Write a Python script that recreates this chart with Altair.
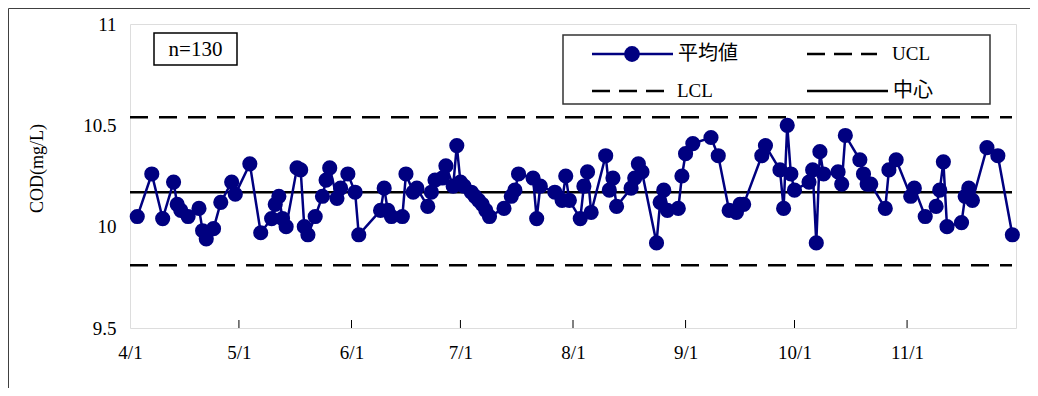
import altair as alt
import pandas as pd

# ---- data ----
dates = [
    "2023-04-03", "2023-04-07", "2023-04-10", "2023-04-13", "2023-04-14", "2023-04-15", "2023-04-17",
    "2023-04-20", "2023-04-21", "2023-04-22", "2023-04-24", "2023-04-26", "2023-04-29", "2023-04-30",
    "2023-05-04", "2023-05-07", "2023-05-10", "2023-05-11", "2023-05-12", "2023-05-13", "2023-05-14",
    "2023-05-17", "2023-05-18", "2023-05-19", "2023-05-20", "2023-05-22", "2023-05-24", "2023-05-25",
    "2023-05-26", "2023-05-28", "2023-05-29", "2023-05-31", "2023-06-02", "2023-06-03", "2023-06-09",
    "2023-06-10", "2023-06-11", "2023-06-12", "2023-06-15", "2023-06-16", "2023-06-18", "2023-06-19",
    "2023-06-22", "2023-06-23", "2023-06-24", "2023-06-26", "2023-06-27", "2023-06-29", "2023-06-30",
    "2023-07-01", "2023-07-02", "2023-07-04", "2023-07-05", "2023-07-06", "2023-07-07", "2023-07-08",
    "2023-07-09", "2023-07-13", "2023-07-15", "2023-07-16", "2023-07-17", "2023-07-21", "2023-07-22",
    "2023-07-23", "2023-07-27", "2023-07-29", "2023-07-30", "2023-07-31", "2023-08-03", "2023-08-04",
    "2023-08-05", "2023-08-06", "2023-08-10", "2023-08-11", "2023-08-12", "2023-08-13", "2023-08-17",
    "2023-08-18", "2023-08-19", "2023-08-20", "2023-08-24", "2023-08-25", "2023-08-26", "2023-08-27",
    "2023-08-30", "2023-08-31", "2023-09-01", "2023-09-03", "2023-09-08", "2023-09-10", "2023-09-13",
    "2023-09-15", "2023-09-16", "2023-09-17", "2023-09-22", "2023-09-23", "2023-09-27", "2023-09-28",
    "2023-09-29", "2023-09-30", "2023-10-01", "2023-10-05", "2023-10-06", "2023-10-07", "2023-10-08",
    "2023-10-09", "2023-10-13", "2023-10-14", "2023-10-15", "2023-10-19", "2023-10-20", "2023-10-21",
    "2023-10-22", "2023-10-26", "2023-10-27", "2023-10-29", "2023-11-02", "2023-11-03", "2023-11-06",
    "2023-11-09", "2023-11-10", "2023-11-11", "2023-11-12", "2023-11-16", "2023-11-17", "2023-11-18",
    "2023-11-19", "2023-11-23", "2023-11-26", "2023-11-30",
]
values = [
    10.05, 10.26, 10.04, 10.22, 10.11, 10.08, 10.05,
    10.09, 9.98, 9.94, 9.99, 10.12, 10.22, 10.16,
    10.31, 9.97, 10.04, 10.11, 10.15, 10.04, 10.00,
    10.29, 10.28, 10.00, 9.96, 10.05, 10.15, 10.23,
    10.29, 10.14, 10.19, 10.26, 10.17, 9.96, 10.08,
    10.19, 10.08, 10.05, 10.05, 10.26, 10.17, 10.19,
    10.10, 10.17, 10.23, 10.24, 10.30, 10.20, 10.40,
    10.22, 10.20, 10.17, 10.15, 10.13, 10.11, 10.08,
    10.05, 10.09, 10.15, 10.18, 10.26, 10.24, 10.04,
    10.20, 10.17, 10.13, 10.25, 10.13, 10.04, 10.20,
    10.27, 10.07, 10.35, 10.18, 10.24, 10.10, 10.19,
    10.24, 10.31, 10.27, 9.92, 10.12, 10.18, 10.08,
    10.09, 10.25, 10.36, 10.41, 10.44, 10.35, 10.08,
    10.07, 10.11, 10.11, 10.35, 10.40, 10.28, 10.09,
    10.50, 10.26, 10.18, 10.22, 10.28, 9.92, 10.37,
    10.26, 10.27, 10.21, 10.45, 10.33, 10.26, 10.21,
    10.21, 10.09, 10.28, 10.33, 10.15, 10.19, 10.05,
    10.10, 10.18, 10.32, 10.00, 10.02, 10.15, 10.19,
    10.13, 10.39, 10.35, 9.96,
]
UCL = 10.54
CL = 10.17
LCL = 9.81
month_ticks = ["2023-05-01", "2023-06-01", "2023-07-01",
               "2023-08-01", "2023-09-01", "2023-10-01", "2023-11-01"]
y_ticks = [9.5, 10, 10.5, 11]
y_title = "COD(mg/L)"
n_label = "n=130"
legend_labels = ["平均値", "UCL", "LCL", "中心"]

# ---- styling ----
W, H = 886, 304
NAVY = "#000080"
SERIF = "Liberation Serif"
CJK = "Noto Sans CJK JP"

df = pd.DataFrame({"date": dates, "value": values})
ticks_df = pd.DataFrame({"date": month_ticks})
limits_df = pd.DataFrame({"y": [UCL, LCL]})
cl_df = pd.DataFrame({"y": [CL]})
one = alt.Data(values=[{}])

x_scale = alt.Scale(
    type="utc",
    domain=[alt.DateTime(year=2023, month=4, date=1, utc=True),
            alt.DateTime(year=2023, month=12, date=1, utc=True)],
)
y_scale = alt.Scale(domain=[9.5, 11], nice=False, zero=False)

x_axis = alt.Axis(
    values=[alt.DateTime(year=2023, month=m, date=1, utc=True) for m in range(4, 12)],
    labelExpr="(utcmonth(datum.value) + 1) + '/' + utcdate(datum.value)",
    labelFont=SERIF, labelFontSize=19, labelColor="black",
    ticks=False, domain=False, grid=False, labelPadding=15,
    labelFlush=False, labelOverlap=False, title=None,
)
y_axis = alt.Axis(
    values=y_ticks, format="~g",
    labelFont=SERIF, labelFontSize=19, labelColor="black",
    ticks=False, domain=False, grid=False, labelPadding=14,
    title=y_title, titleFont=SERIF, titleFontSize=18, titleFontWeight="normal",
    titleColor="black", titleAngle=270, titleX=-93, titleY=H / 2 - 8,
    titleAlign="center", titleBaseline="middle",
)


def X(field):
    return alt.X(field, type="temporal", scale=x_scale, axis=x_axis)


def Y(field):
    return alt.Y(field, type="quantitative", scale=y_scale, axis=y_axis)


# outer frame (top and left edges)
frame_top = alt.Chart(one).mark_rule(color="#404040", strokeWidth=1).encode(
    x=alt.value(-121.5), x2=alt.value(W + 40), y=alt.value(-15.5)
)
frame_left = alt.Chart(one).mark_rule(color="#404040", strokeWidth=1).encode(
    x=alt.value(-121.5), y=alt.value(-15.5), y2=alt.value(H + 120)
)

limits = alt.Chart(limits_df).mark_rule(color="black", strokeWidth=2.5, strokeDash=[18, 11]).encode(
    y=Y("y"), x=alt.value(0), x2=alt.value(W - 4)
)
center = alt.Chart(cl_df).mark_rule(color="black", strokeWidth=2.5).encode(
    y=Y("y"), x=alt.value(0), x2=alt.value(W - 4)
)
xticks = alt.Chart(ticks_df).mark_rule(color="black", strokeWidth=1).encode(
    x=X("date"), y=alt.value(H - 8), y2=alt.value(H)
)
line = alt.Chart(df).mark_line(color=NAVY, strokeWidth=2.5).encode(x=X("date"), y=Y("value"))
points = alt.Chart(df).mark_point(filled=True, shape="circle", size=230, color=NAVY, opacity=1).encode(
    x=X("date"), y=Y("value")
)

# n box
nbox = alt.Chart(one).mark_rect(fill="white", stroke="black", strokeWidth=1.5).encode(
    x=alt.value(24), x2=alt.value(107), y=alt.value(9), y2=alt.value(41)
)
ntext = alt.Chart(one).mark_text(text=n_label, font=SERIF, fontSize=21, align="center",
                                 baseline="middle", color="black").encode(
    x=alt.value(65.5), y=alt.value(26)
)

# legend
lbox = alt.Chart(one).mark_rect(fill="white", stroke="#333333", strokeWidth=1.5).encode(
    x=alt.value(433), x2=alt.value(860), y=alt.value(11), y2=alt.value(80)
)


def lg_rule(x1, x2, y, color="black", dash=None):
    kw = dict(color=color, strokeWidth=2.5)
    if dash:
        kw["strokeDash"] = dash
    return alt.Chart(one).mark_rule(**kw).encode(x=alt.value(x1), x2=alt.value(x2), y=alt.value(y))


def lg_text(label, x, y, font, size):
    return alt.Chart(one).mark_text(text=label, font=font, fontSize=size, align="left",
                                    baseline="middle", color="black").encode(
        x=alt.value(x), y=alt.value(y)
    )


R1, R2 = 30, 67
legend = [
    lbox,
    lg_rule(462, 543, R1, color=NAVY),
    alt.Chart(one).mark_point(filled=True, shape="circle", size=250, color=NAVY, opacity=1).encode(
        x=alt.value(502), y=alt.value(R1)),
    lg_text(legend_labels[0], 548, R1, CJK, 20),
    lg_rule(677, 747, R1, dash=[18, 9]),
    lg_text(legend_labels[1], 762, R1, SERIF, 19),
    lg_rule(462, 537, R2, dash=[18, 9]),
    lg_text(legend_labels[2], 547, R2, SERIF, 19),
    lg_rule(677, 758, R2),
    lg_text(legend_labels[3], 763, R2, CJK, 20),
]

chart = alt.layer(
    frame_top, frame_left, limits, center, xticks, line, points, nbox, ntext, *legend
).properties(
    width=W, height=H,
    autosize=alt.AutoSizeParams(type="none"),
    padding={"left": 122, "top": 16, "right": 14, "bottom": 60},
).configure_view(
    stroke="black", strokeWidth=2
).configure(background="white")

chart.save("out.html", embed_options={"renderer": "svg", "actions": False})
